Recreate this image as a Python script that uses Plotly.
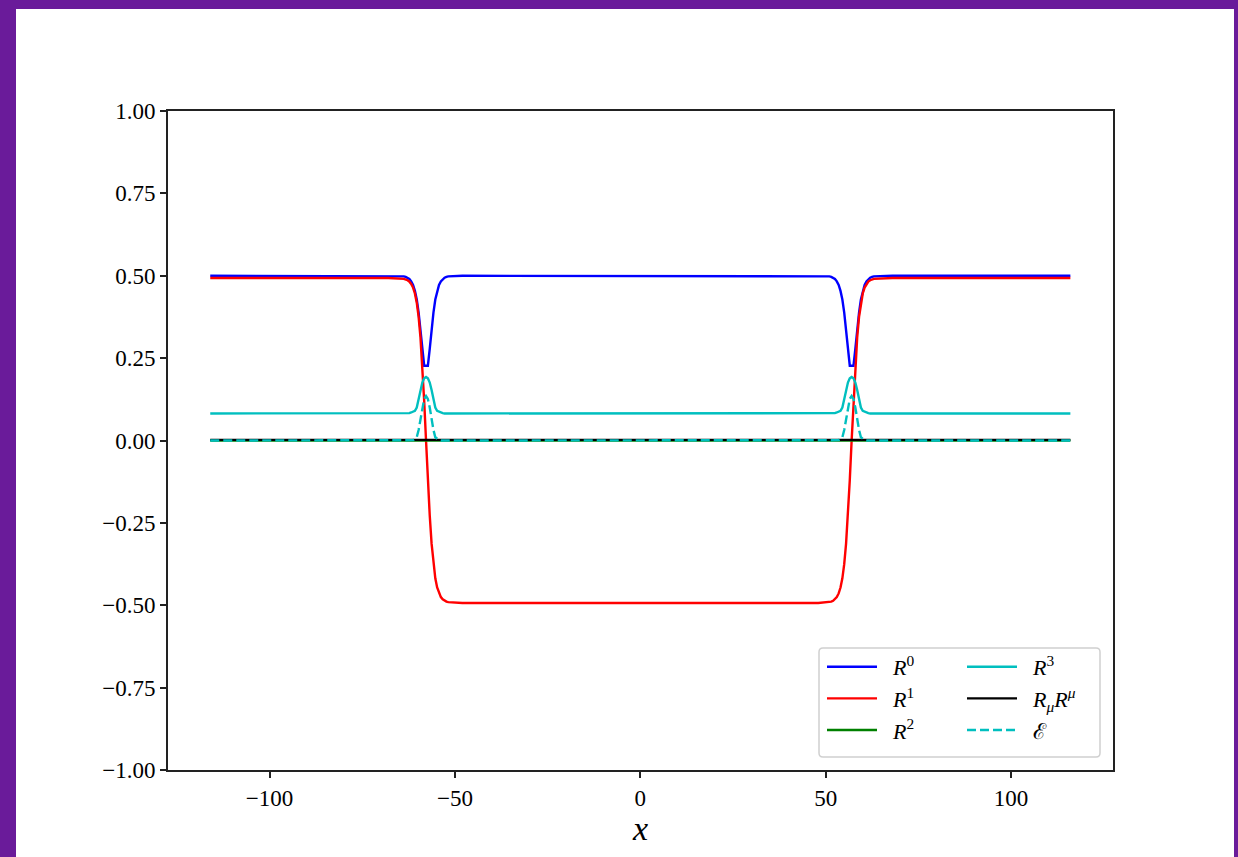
import plotly.graph_objects as go

# ---------------- data ----------------
x = [-116, -68,
     -63.8, -63.3, -62.8, -62.3, -61.8, -61.3, -60.8, -60.3, -59.8, -59.3, -58.8, -58.3, -57.8,
     -57.3, -56.8, -56.3, -55.8, -55.3, -54.8, -54.3, -53.8, -53.3, -52.8, -52.3, -51.8,
     -48, 48,
     51.0, 51.5, 52.0, 52.5, 53.0, 53.5, 54.0, 54.5, 55.0, 55.5, 56.0, 56.5, 57.0,
     57.5, 58.0, 58.5, 59.0, 59.5, 60.0, 60.5, 61.0, 61.5, 62.0, 62.5, 63.0,
     68, 116]

R0 = [0.500, 0.500,
      0.498, 0.4965, 0.494, 0.490, 0.483, 0.472, 0.454, 0.428, 0.388, 0.336, 0.278, 0.227, 0.227,
      0.227, 0.278, 0.336, 0.388, 0.428, 0.454, 0.472, 0.483, 0.490, 0.494, 0.4965, 0.498,
      0.500, 0.500,
      0.498, 0.4965, 0.494, 0.490, 0.483, 0.472, 0.454, 0.428, 0.388, 0.336, 0.278, 0.227, 0.227,
      0.227, 0.278, 0.336, 0.388, 0.428, 0.454, 0.472, 0.483, 0.490, 0.494, 0.4965, 0.498,
      0.500, 0.500]

R1 = [0.493, 0.493,
      0.4906, 0.4890, 0.4864, 0.4822, 0.4753, 0.4641, 0.4462, 0.4182, 0.3755, 0.3131, 0.2278, 0.1207, 0.0,
      -0.1207, -0.2278, -0.3131, -0.3755, -0.4182, -0.4462, -0.4641, -0.4753, -0.4822, -0.4864, -0.4890, -0.4906,
      -0.493, -0.493,
      -0.4906, -0.4890, -0.4864, -0.4822, -0.4753, -0.4641, -0.4462, -0.4182, -0.3755, -0.3131, -0.2278, -0.1207, 0.0,
      0.1207, 0.2278, 0.3131, 0.3755, 0.4182, 0.4462, 0.4641, 0.4753, 0.4822, 0.4864, 0.4890, 0.4906,
      0.493, 0.493]

R3 = [0.082, 0.082,
      0.082, 0.082, 0.082, 0.083, 0.085, 0.087, 0.090, 0.100, 0.125, 0.153, 0.176, 0.189, 0.193,
      0.189, 0.176, 0.153, 0.125, 0.100, 0.090, 0.087, 0.085, 0.083, 0.082, 0.082, 0.082,
      0.082, 0.082,
      0.082, 0.082, 0.082, 0.083, 0.085, 0.087, 0.090, 0.100, 0.125, 0.153, 0.176, 0.189, 0.193,
      0.189, 0.176, 0.153, 0.125, 0.100, 0.090, 0.087, 0.085, 0.083, 0.082, 0.082, 0.082,
      0.082, 0.082]

EPS = [0.0, 0.0,
       0.0, 0.0, 0.0, 0.0, 0.0, 0.001, 0.004, 0.010, 0.032, 0.065, 0.100, 0.126, 0.135,
       0.126, 0.100, 0.065, 0.032, 0.010, 0.004, 0.001, 0.0, 0.0, 0.0, 0.0, 0.0,
       0.0, 0.0,
       0.0, 0.0, 0.0, 0.0, 0.0, 0.001, 0.004, 0.010, 0.032, 0.065, 0.100, 0.126, 0.135,
       0.126, 0.100, 0.065, 0.032, 0.010, 0.004, 0.001, 0.0, 0.0, 0.0, 0.0, 0.0,
       0.0, 0.0]

x_R2 = [-116, 116]
R2 = [0.0, 0.0]

x_RR = [-116, -62, -58, -54, 54, 57, 61, 116]
RR = [0.002, 0.002, 0.004, 0.002, 0.002, 0.004, 0.002, 0.002]

x_ticks = [-100, -50, 0, 50, 100]
x_ticktext = ["\u2212100", "\u221250", "0", "50", "100"]
y_ticks = [-1.0, -0.75, -0.5, -0.25, 0.0, 0.25, 0.5, 0.75, 1.0]
y_ticktext = ["\u22121.00", "\u22120.75", "\u22120.50", "\u22120.25", "0.00", "0.25", "0.50", "0.75", "1.00"]

PAD = "\u00a0\u00a0"
names = [PAD + "<i>R</i><sup>0</sup>", PAD + "<i>R</i><sup>1</sup>", PAD + "<i>R</i><sup>2</sup>",
         PAD + "<i>R</i><sup>3</sup>",
         PAD + "<i>R</i><sub><i>\u03bc</i></sub><i>R</i><sup><i>\u03bc</i></sup>",
         PAD + "\u2130"]
colors = ["#0000ff", "#ff0000", "#008000", "#00bfbf", "#000000", "#00bfbf"]

# ---------------- figure ----------------
FONT = "Liberation Serif"
W, H = 1238, 857
ML, MR, MT, MB = 168, 125, 111, 87
PW, PH = W - ML - MR, H - MT - MB

fig = go.Figure()
lw = 2.4
fig.add_trace(go.Scatter(x=x, y=R0, mode="lines", line=dict(color=colors[0], width=lw),
                         name=names[0], legend="legend", legendgroup="a"))
fig.add_trace(go.Scatter(x=x, y=R1, mode="lines", line=dict(color=colors[1], width=lw),
                         name=names[1], legend="legend", legendgroup="b"))
fig.add_trace(go.Scatter(x=x_R2, y=R2, mode="lines", line=dict(color=colors[2], width=lw),
                         name=names[2], legend="legend", legendgroup="c"))
fig.add_trace(go.Scatter(x=x, y=R3, mode="lines", line=dict(color=colors[3], width=lw),
                         name=names[3], legend="legend2", legendgroup="d"))
fig.add_trace(go.Scatter(x=x_RR, y=RR, mode="lines", line=dict(color=colors[4], width=lw),
                         name=names[4], legend="legend2", legendgroup="e"))
fig.add_trace(go.Scatter(x=x, y=EPS, mode="lines", line=dict(color=colors[5], width=lw, dash="9px,4px"),
                         name=names[5], legend="legend2", legendgroup="f"))

def px2paper_x(px):
    return (px - ML) / PW

def px2paper_y(py):
    return (H - MB - py) / PH

# white page region over the purple frame
fig.add_shape(type="rect", xref="paper", yref="paper", layer="below",
              x0=px2paper_x(16), x1=px2paper_x(1234), y0=px2paper_y(H + 5), y1=px2paper_y(9),
              fillcolor="white", line=dict(width=0))

# legend frame (rounded)
lx0, lx1, ly0, ly1 = px2paper_x(819), px2paper_x(1100), px2paper_y(757), px2paper_y(648)
rx, ry = 4 / PW, 4 / PH
path = (f"M{lx0+rx},{ly0} L{lx1-rx},{ly0} Q{lx1},{ly0} {lx1},{ly0+ry} "
        f"L{lx1},{ly1-ry} Q{lx1},{ly1} {lx1-rx},{ly1} L{lx0+rx},{ly1} "
        f"Q{lx0},{ly1} {lx0},{ly1-ry} L{lx0},{ly0+ry} Q{lx0},{ly0} {lx0+rx},{ly0} Z")
fig.add_shape(type="path", xref="paper", yref="paper", path=path, layer="above",
              fillcolor="rgba(255,255,255,0.8)", line=dict(color="#d0d0d0", width=1.5))

leg_common = dict(bgcolor="rgba(0,0,0,0)", borderwidth=0, xanchor="left", yanchor="top",
                  font=dict(family=FONT, size=22, color="#000000"), tracegroupgap=0,
                  itemwidth=50)
fig.update_layout(
    width=W, height=H,
    margin=dict(l=ML, r=MR, t=MT, b=MB, pad=0),
    paper_bgcolor="#6a1b9a",
    plot_bgcolor="white",
    font=dict(family=FONT, size=23, color="#000000"),
    showlegend=True,
    legend=dict(x=px2paper_x(822), y=px2paper_y(646), **leg_common),
    legend2=dict(x=px2paper_x(962), y=px2paper_y(646), **leg_common),
    xaxis=dict(range=[-127.4, 127.5], tickvals=x_ticks, ticktext=x_ticktext,
               showgrid=False, zeroline=False, showline=True, mirror=True,
               linecolor="#222222", linewidth=1.8, ticks="outside", ticklen=6, tickwidth=1.5,
               tickcolor="#222222", tickfont=dict(family=FONT, size=23),
               title=dict(text="<i>x</i>", font=dict(family=FONT, size=34), standoff=1)),
    yaxis=dict(range=[-1.0, 1.0], tickvals=y_ticks, ticktext=y_ticktext,
               showgrid=False, zeroline=False, showline=True, mirror=True,
               linecolor="#222222", linewidth=1.8, ticks="outside", ticklen=6, tickwidth=1.5,
               tickcolor="#222222", tickfont=dict(family=FONT, size=23)),
)

fig.write_html("out.html", config={"displayModeBar": False},
               post_script="document.body.style.margin='0';document.body.style.overflow='hidden';")
